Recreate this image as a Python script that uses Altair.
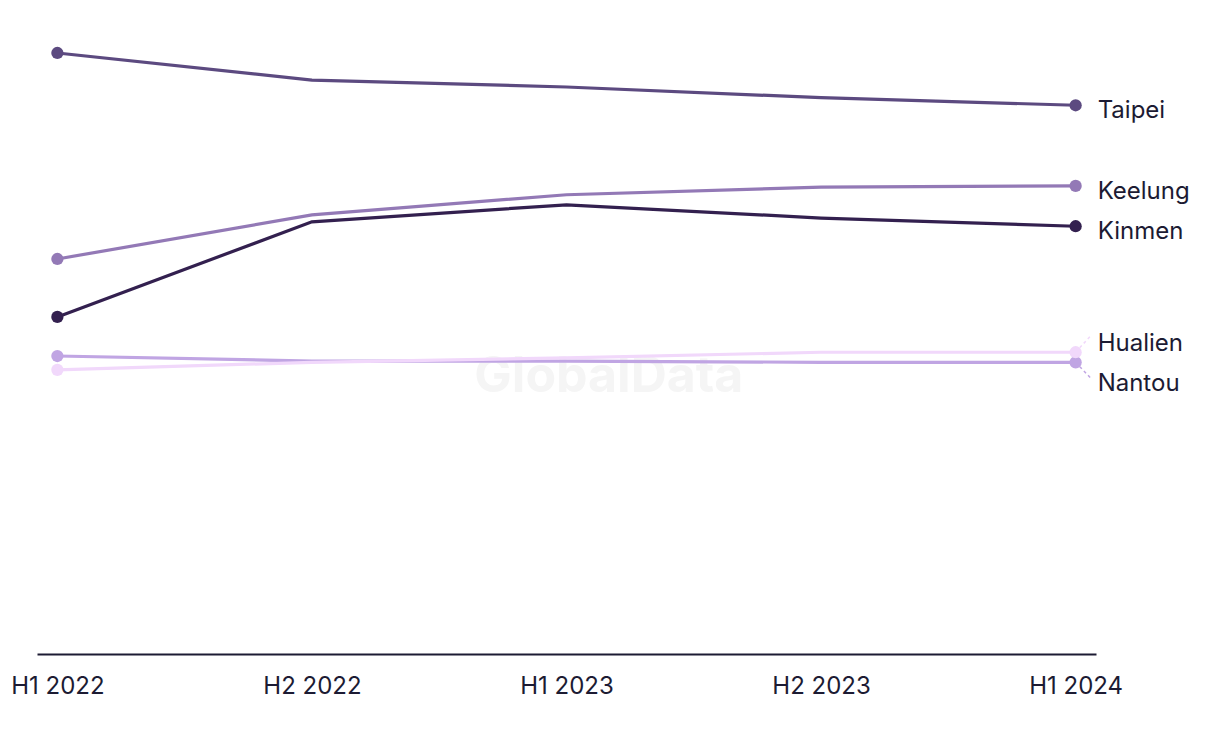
import altair as alt
import pandas as pd

periods = ["H1 2022", "H2 2022", "H1 2023", "H2 2023", "H1 2024"]
series = ["Taipei", "Keelung", "Kinmen", "Nantou", "Hualien"]
values = {
    "Taipei": [95.4, 91.1, 90.0, 88.3, 87.1],
    "Keelung": [62.7, 69.7, 72.9, 74.1, 74.3],
    "Kinmen": [53.5, 68.6, 71.3, 69.2, 67.9],
    "Nantou": [47.3, 46.5, 46.5, 46.3, 46.3],
    "Hualien": [45.1, 46.3, 47.0, 47.9, 47.9],
}
label_pos = {"Taipei": 87.1, "Keelung": 74.3, "Kinmen": 67.9, "Nantou": 43.8, "Hualien": 50.2}
leader_end = {"Nantou": 43.8, "Hualien": 50.5}
colors = ["#5c4a80", "#9379b6", "#33204f", "#c0a5e3", "#f1d8fb"]

rows = []
for s in series:
    for p, v in zip(periods, values[s]):
        rows.append({"series": s, "period": p, "value": v})
df = pd.DataFrame(rows)
ends = df[df["period"].isin([periods[0], periods[-1]])]
last = df[df["period"] == periods[-1]].copy()
last["label_y"] = last["series"].map(label_pos)
leaders = last[last["series"].isin(list(leader_end))].copy()
leaders["end_y"] = leaders["series"].map(leader_end)
wm = pd.DataFrame({"value": [44.0], "t": ["GlobalData"]})

W, H = 1059, 630
FONT = "Inter"
x = alt.X("period:N", sort=periods, scale=alt.Scale(type="point", padding=0.08),
          axis=alt.Axis(title=None, ticks=False, grid=False, domainColor="#1c1b33",
                        domainWidth=2, labelFontSize=24, labelColor="#1c1b33",
                        labelFont=FONT, labelPadding=20, labelAngle=0))
yscale = alt.Scale(domain=[0, 100], nice=False, zero=True)
y = alt.Y("value:Q", scale=yscale, axis=None)
color = alt.Color("series:N", scale=alt.Scale(domain=series, range=colors), legend=None)

watermark = alt.Chart(wm).mark_text(fontSize=50, fontWeight="bold", color="#f5f5f5",
                                    font=FONT).encode(x=alt.value(W * 0.54), y=y, text="t:N")
lines = alt.Chart(df).mark_line(strokeWidth=3.2).encode(x=x, y=y, color=color, detail="series:N")
points = alt.Chart(ends).mark_circle(size=150, opacity=1).encode(x=x, y=y, color=color)
lead = alt.Chart(leaders).mark_rule(strokeDash=[3, 3], strokeWidth=1.5, x2Offset=15).encode(
    x=x, x2="period:N", y=y, y2="end_y:Q", color=color)
labels = alt.Chart(last).mark_text(align="left", baseline="middle", dx=22, dy=6, fontSize=24,
                                   color="#1c1b33", font=FONT).encode(
    x=x, y=alt.Y("label_y:Q", scale=yscale, axis=None), text="series:N")

chart = alt.layer(watermark, lines, lead, points, labels).properties(
    width=W, height=H, background="white",
    padding={"left": 2, "top": 16, "right": 5, "bottom": 5}
).configure_view(strokeWidth=0, stroke=None)

chart.save("out.html", embed_options={"renderer": "svg", "actions": False})
